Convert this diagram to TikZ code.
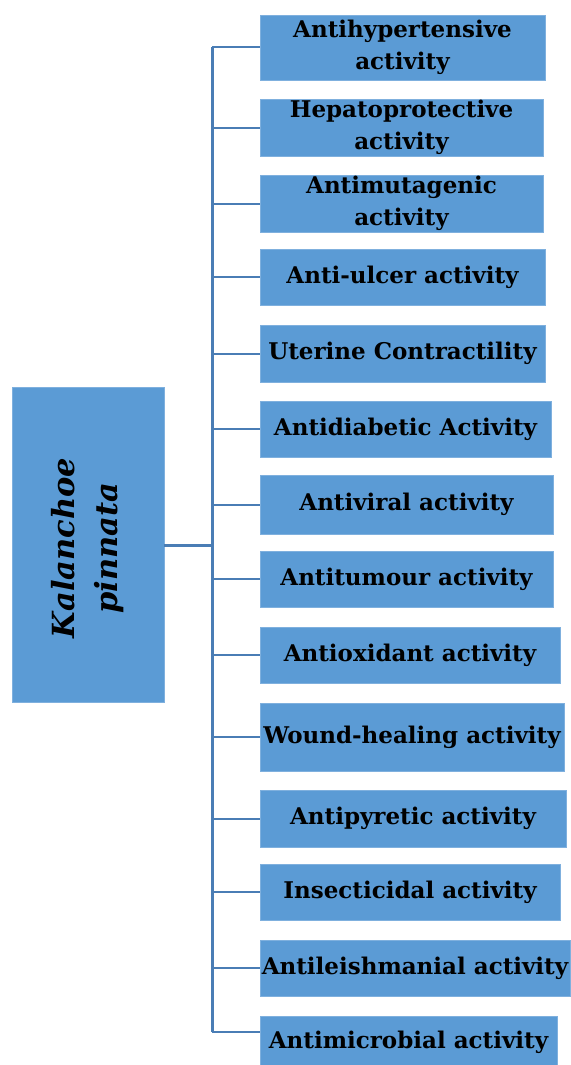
\documentclass[tikz,border=0pt]{standalone}
\usepackage{fontspec}
\setmainfont{DejaVu Serif}
\definecolor{boxblue}{HTML}{5B9BD5}
\definecolor{boxedge}{HTML}{7FB0DE}
\definecolor{linkblue}{HTML}{4A7DB5}
\begin{document}
\begin{tikzpicture}[x=1pt,y=-1pt,
  act/.style={draw=boxedge, line width=0.8pt, fill=boxblue, inner sep=0pt, align=center,
    font=\bfseries\fontsize{23}{32}\selectfont, text=black},
  root/.style={draw=boxedge, line width=0.8pt, fill=boxblue, inner sep=0pt},
  trunk/.style={draw=linkblue, line width=3pt},
  stub/.style={draw=linkblue, line width=2pt}]
\useasboundingbox (0,0) rectangle (570,1065);
% root
\node[root, minimum width=152pt, minimum height=315pt] (root) at (88,545) {};
\node[rotate=90, align=center, font=\bfseries\itshape\fontsize{30.5}{43}\selectfont] (rootlbl) at ([xshift=0pt,yshift=-3pt]root.center) {Kalanchoe\\pinnata};
% activity boxes
\node[act, minimum width=285pt, minimum height=65pt] (b1) at (402.5,47.5) {Antihypertensive\\activity};
\node[act, minimum width=283pt, minimum height=57pt] (b2) at (401.5,127.5) {Hepatoprotective\\activity};
\node[act, minimum width=283pt, minimum height=57pt] (b3) at (401.5,203.5) {Antimutagenic\\activity};
\node[act, minimum width=285pt, minimum height=56pt] (b4) at (402.5,277) {Anti-ulcer activity};
\node[act, minimum width=285pt, minimum height=57pt] (b5) at (402.5,353.5) {Uterine Contractility};
\node[act, minimum width=291pt, minimum height=56pt] (b6) at (405.5,429) {Antidiabetic Activity};
\node[act, minimum width=293pt, minimum height=59pt] (b7) at (406.5,504.5) {Antiviral activity};
\node[act, minimum width=293pt, minimum height=56pt] (b8) at (406.5,579) {Antitumour activity};
\node[act, minimum width=300pt, minimum height=56pt] (b9) at (410,655) {Antioxidant activity};
\node[act, minimum width=304pt, minimum height=68pt] (b10) at (412,737) {Wound-healing activity};
\node[act, minimum width=306pt, minimum height=57pt] (b11) at (413,818.5) {Antipyretic activity};
\node[act, minimum width=300pt, minimum height=56pt] (b12) at (410,892) {Insecticidal activity};
\node[act, minimum width=310pt, minimum height=56pt] (b13) at (415,968) {Antileishmanial activity};
\node[act, minimum width=297pt, minimum height=52pt] (b14) at (408.5,1042) {Antimicrobial activity};
% connectors
\coordinate (jt) at (212,47.5);
\coordinate (jb) at (212,1032);
\coordinate (jm) at (212,545);
\draw[trunk] (root.east |- jm) -- (jm);
\draw[trunk] (jt) -- (jb);
\foreach \i in {1,...,13}{
  \draw[stub] (jt |- b\i.west) -- (b\i.west);
}
\draw[stub] (jb) -- (jb -| b14.west);
\end{tikzpicture}
\end{document}
